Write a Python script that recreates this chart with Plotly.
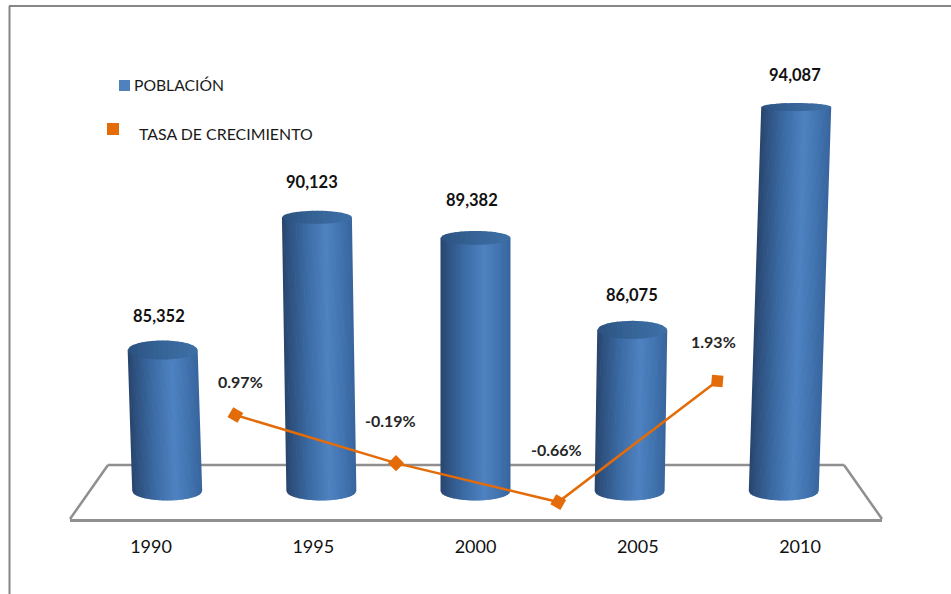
import math
import plotly.graph_objects as go

# ---- data ----
anos = [1990, 1995, 2000, 2005, 2010]
poblacion = [85352, 90123, 89382, 86075, 94087]
poblacion_etiquetas = ["85,352", "90,123", "89,382", "86,075", "94,087"]
tasa_anos = [1992.6, 1997.55, 2002.55, 2007.45]
tasa_nivel = [0.97, -0.39, -1.49, 1.93]   # height of each marker as drawn
tasa_etiquetas = ["0.97%", "-0.19%", "-0.66%", "1.93%"]

# ---- page geometry ----
W, H = 951, 594
FLOOR_L, FLOOR_R, FLOOR_BOTTOM = 70, 882, 519
FLOOR_BACK_DY = 54
FLOOR_BACK_DX = 38
PX_PER_YEAR = 32.45
PX_PER_UNIT = 0.02782
X_RANGE = [1990 - (151 - FLOOR_L) / PX_PER_YEAR, 1990 + (FLOOR_R - 151) / PX_PER_YEAR]
Y_RANGE = [85352 - (FLOOR_BOTTOM - 350) / PX_PER_UNIT, 85352 + 350 / PX_PER_UNIT]
BASE_VALUE = 85352 - (491 - 350) / PX_PER_UNIT
RATE_PX = 35.4
Y2_RANGE = [0.97 - (FLOOR_BOTTOM - 415) / RATE_PX, 0.97 + 415 / RATE_PX]

# ---- cylinder look ----
RADIUS_PX = 35
VANISH_YEAR = 2000
STRIPS = 40
STOPS = [(0.0, (40, 68, 108)), (0.10, (46, 82, 128)), (0.35, (60, 108, 166)),
         (0.62, (78, 130, 192)), (0.85, (64, 114, 174)), (1.0, (56, 100, 156))]
CAP_STOPS = [(0.0, (44, 82, 128)), (0.5, (54, 100, 152)), (1.0, (62, 112, 166))]


def shade(stops, t):
    for (t0, c0), (t1, c1) in zip(stops, stops[1:]):
        if t <= t1:
            f = (t - t0) / (t1 - t0)
            return "rgb(%d,%d,%d)" % tuple(round(a + (b - a) * f) for a, b in zip(c0, c1))
    return "rgb(%d,%d,%d)" % stops[-1][1]


def geom(ano, valor):
    """centre (year) of the bottom and top of one cylinder, and its pixel height"""
    dist = VANISH_YEAR - ano
    base_x = ano + 0.05 * dist
    altura_px = (valor - BASE_VALUE) * PX_PER_UNIT
    top_x = base_x - altura_px * dist * 1e-4
    return base_x, top_x, altura_px


def cap_b(altura_px):
    return max(3.5, 12.7 - 0.0226 * altura_px)


fig = go.Figure()
R = RADIUS_PX / PX_PER_YEAR
BOTTOM_B = 9.5 / PX_PER_UNIT

for i in range(STRIPS):
    u0 = -1 + 2 * i / STRIPS
    u1 = min(1, u0 + 2 / STRIPS + 0.02)
    xs, ys = [], []
    for ano, valor in zip(anos, poblacion):
        bx, tx, _ = geom(ano, valor)
        xs += [tx + R * u0, tx + R * u1]
        ys += [valor, valor]
        for u in [u1, (u0 + u1) / 2, u0]:
            xs.append(bx + R * u)
            ys.append(BASE_VALUE - BOTTOM_B * math.sqrt(max(0, 1 - u * u)))
        xs.append(None)
        ys.append(None)
    fig.add_trace(go.Scatter(x=xs, y=ys, mode="lines", fill="toself", line=dict(width=0),
                             fillcolor=shade(STOPS, (i + 0.5) / STRIPS),
                             hoverinfo="skip", showlegend=False))

# caps of the cylinders
CAP_STRIPS = 14
for i in range(CAP_STRIPS):
    u0 = -1 + 2 * i / CAP_STRIPS
    u1 = min(1, u0 + 2 / CAP_STRIPS + 0.02)
    xs, ys = [], []
    for ano, valor in zip(anos, poblacion):
        _, tx, alt = geom(ano, valor)
        b = cap_b(alt) / PX_PER_UNIT
        us = [u0 + (u1 - u0) * k / 6 for k in range(7)]
        for u in us:
            xs.append(tx + R * u)
            ys.append(valor + b * math.sqrt(max(0, 1 - u * u)))
        for u in reversed(us):
            xs.append(tx + R * u)
            ys.append(valor - b * math.sqrt(max(0, 1 - u * u)))
        xs.append(None)
        ys.append(None)
    fig.add_trace(go.Scatter(x=xs, y=ys, mode="lines", fill="toself", line=dict(width=0),
                             fillcolor=shade(CAP_STOPS, (i + 0.5) / CAP_STRIPS),
                             hoverinfo="skip", showlegend=False))

# growth-rate line
fig.add_trace(go.Scatter(x=tasa_anos, y=tasa_nivel, yaxis="y2", mode="lines+markers",
                         line=dict(color="#E36C09", width=2.5),
                         marker=dict(symbol="square", size=11.5, color="#E36C09", angle=[30, 45, 30, 5]),
                         hoverinfo="skip", showlegend=False))

annotations = []
POP_DX = [-4, -5, -4, 0, -1]
POP_DY = [34, 35, 38, 35, 32]
for ano, valor, txt, dx, dy in zip(anos, poblacion, poblacion_etiquetas, POP_DX, POP_DY):
    _, tx, _ = geom(ano, valor)
    annotations.append(dict(x=tx, y=valor, xref="x", yref="y", text="<b>%s</b>" % txt, showarrow=False,
                            xshift=dx, yshift=dy, font=dict(family="Lato", size=16.5, color="#111111")))
TASA_DX = [5, -6, -2, -4]
TASA_DY = [34, 43, 53, 40]
for x, y, txt, dx, dy in zip(tasa_anos, tasa_nivel, tasa_etiquetas, TASA_DX, TASA_DY):
    annotations.append(dict(x=x, y=y, xref="x", yref="y2", text="<b>%s</b>" % txt, showarrow=False,
                            xshift=dx, yshift=dy, font=dict(family="Lato", size=16, color="#262626")))


def px(x):
    return (x - FLOOR_L) / (FLOOR_R - FLOOR_L)


def py(y):
    return (FLOOR_BOTTOM - y) / FLOOR_BOTTOM


annotations += [
    dict(x=px(134), y=py(85), xref="paper", yref="paper", text="POBLACIÓN", showarrow=False, xanchor="left",
         yanchor="middle", xshift=-2, font=dict(family="Lato", size=15.7, color="#1a1a1a")),
    dict(x=px(139), y=py(133), xref="paper", yref="paper", text="TASA DE CRECIMIENTO", showarrow=False,
         xanchor="left", yanchor="middle", xshift=-2, font=dict(family="Lato", size=15.9, color="#1a1a1a")),
]

FRAME = "#868686"
FLOOR = "#8f8f8f"
shapes = [
    dict(type="line", xref="paper", yref="paper", x0=px(9.5), x1=px(9.5), y0=py(6), y1=py(H),
         line=dict(color=FRAME, width=2)),
    dict(type="line", xref="paper", yref="paper", x0=px(9), x1=px(W), y0=py(6), y1=py(6),
         line=dict(color=FRAME, width=2)),
    dict(type="rect", xref="paper", yref="paper", x0=px(119), x1=px(130), y0=py(91), y1=py(80),
         fillcolor="#4F81BD", line=dict(width=0)),
    dict(type="rect", xref="paper", yref="paper", x0=px(107), x1=px(119), y0=py(135), y1=py(123),
         fillcolor="#E36C09", line=dict(width=0)),
]
back_y = py(FLOOR_BOTTOM - FLOOR_BACK_DY)
for a, b, c, d in [
    (px(FLOOR_L), py(FLOOR_BOTTOM), px(FLOOR_L + FLOOR_BACK_DX), back_y),
    (px(FLOOR_L + FLOOR_BACK_DX), back_y, px(FLOOR_R - FLOOR_BACK_DX), back_y),
    (px(FLOOR_R - FLOOR_BACK_DX), back_y, px(FLOOR_R), py(FLOOR_BOTTOM)),
]:
    shapes.append(dict(type="line", xref="paper", yref="paper", x0=a, y0=b, x1=c, y1=d, layer="below",
                       line=dict(color=FLOOR, width=2.5)))

fig.update_layout(
    width=W, height=H, autosize=False,
    margin=dict(l=FLOOR_L, r=W - FLOOR_R, t=0, b=H - FLOOR_BOTTOM, pad=0),
    paper_bgcolor="white", plot_bgcolor="rgba(0,0,0,0)",
    showlegend=False,
    xaxis=dict(range=X_RANGE, tickvals=anos, ticktext=[str(a) for a in anos], showgrid=False, zeroline=False,
               showline=True, linecolor=FLOOR, linewidth=2.5, ticks="", ticklabelstandoff=10,
               tickfont=dict(family="Lato", size=18, color="#111111")),
    yaxis=dict(range=Y_RANGE, visible=False, showgrid=False, zeroline=False),
    yaxis2=dict(range=Y2_RANGE, overlaying="y", visible=False, showgrid=False, zeroline=False),
    annotations=annotations, shapes=shapes,
)

fig.write_html("out.html", post_script="document.body.style.margin='0';document.body.style.overflow='hidden';",
               config=dict(displayModeBar=False))
